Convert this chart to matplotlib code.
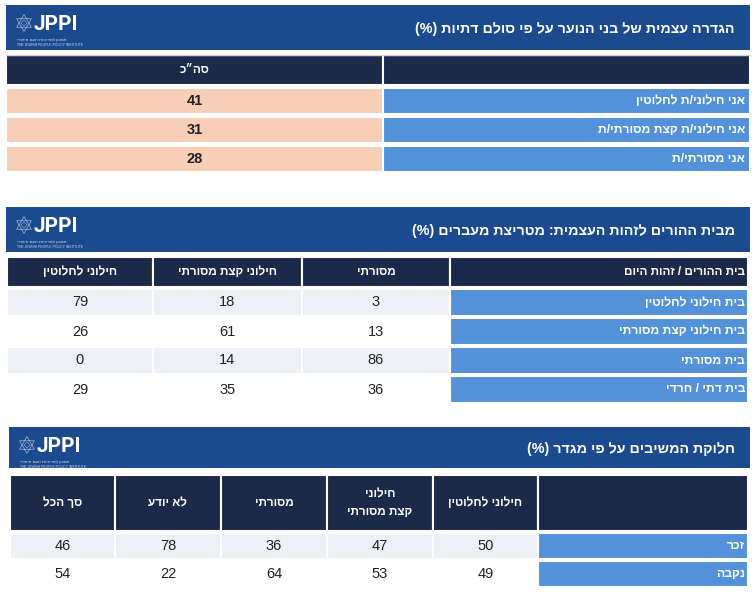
import numpy as np
import matplotlib.pyplot as plt
from matplotlib.patches import Rectangle, Polygon

plt.rcParams['font.family'] = ['Liberation Sans', 'DejaVu Sans']

# ---- donnees (ordre logique, de droite a gauche) ----
t1_title = "הגדרה עצמית של בני הנוער על פי סולם דתיות (%)"
t1_corner = ""
t1_cols = ["סה״כ"]
t1_rows = ["אני חילוני/ת לחלוטין", "אני חילוני/ת קצת מסורתי/ת", "אני מסורתי/ת"]
t1_vals = [[41], [31], [28]]

t2_title = "מבית ההורים לזהות העצמית: מטריצת מעברים (%)"
t2_corner = "בית ההורים / זהות היום"
t2_cols = ["מסורתי", "חילוני קצת מסורתי", "חילוני לחלוטין"]
t2_rows = ["בית חילוני לחלוטין", "בית חילוני קצת מסורתי", "בית מסורתי", "בית דתי / חרדי"]
t2_vals = [[3, 18, 79], [13, 61, 26], [86, 14, 0], [36, 35, 29]]

t3_title = "חלוקת המשיבים על פי מגדר (%)"
t3_corner = ""
t3_cols = ["חילוני לחלוטין", "חילוני\nקצת מסורתי", "מסורתי", "לא יודע", "סך הכל"]
t3_rows = ["זכר", "נקבה"]
t3_vals = [[50, 47, 36, 78, 46], [49, 53, 64, 22, 54]]

BANNER = '#1B4A8E'
HEAD = '#1C2A4A'
LABEL = '#5391D8'
PEACH = '#F7CEB6'
GREY = '#EDF0F5'
TXT = '#222222'


def rtl(s):
    # matplotlib ne gere pas le bidi : on inverse chaque ligne a la main
    swap = {'(': ')', ')': '('}
    lignes = []
    for l in s.split('\n'):
        lignes.append(''.join(swap.get(c, c) for c in reversed(l)))
    return '\n'.join(lignes)


def logo(ax, x, y):
    # etoile + JPPI
    cx, cy, r = x + 9, y + 12, 8.5
    for a0 in (90, -90):
        ang = np.radians([a0, a0 + 120, a0 + 240])
        ax.add_patch(Polygon(np.c_[cx + r * np.cos(ang), cy - r * np.sin(ang)],
                             closed=True, fill=False, ec='white', lw=0.5, alpha=0.6))
    ax.add_patch(Polygon([[cx - 3, cy], [cx, cy - 3], [cx + 3, cy], [cx, cy + 3]],
                         closed=True, fill=False, ec='white', lw=0.4, alpha=0.6))
    ax.text(x + 19, y + 13, "JPPI", color='white', fontsize=15, fontweight='bold',
            va='center', ha='left', family=['Roboto', 'DejaVu Sans'])
    ax.text(x + 2, y + 29, rtl("המכון למדיניות העם היהודי"), color='white', fontsize=3.2,
            va='center', ha='left', alpha=0.8)
    ax.text(x + 2, y + 34, "THE JEWISH PEOPLE POLICY INSTITUTE", color='white', fontsize=2.4,
            va='center', ha='left', alpha=0.8)


def tableau(ax, x0, x1, yb0, yb1, title, corner, cols, rows, vals,
            col_edges, hy0, hy1, row_tops, row_h, peach=False, bold_vals=False):
    ax.add_patch(Rectangle((x0, yb0), x1 - x0, yb1 - yb0, fc=BANNER, ec='none'))
    logo(ax, x0 + 9, yb0 + 6)
    ax.text(x1 - 15, (yb0 + yb1) / 2 + 1, rtl(title), color='white', fontsize=10.3,
            fontweight='bold', ha='right', va='center')

    # col_edges de gauche a droite ; la derniere colonne = libelles
    n = len(cols)
    for j in range(n + 1):
        xa, xb = col_edges[j], col_edges[j + 1]
        ax.add_patch(Rectangle((xa, hy0), xb - xa, hy1 - hy0, fc=HEAD, ec='white', lw=1.5))
    ax.text(x1 - 5, (hy0 + hy1) / 2, rtl(corner), color='white', fontsize=8.5,
            fontweight='bold', ha='right', va='center')
    for k, c in enumerate(cols):
        j = n - 1 - k
        xm = (col_edges[j] + col_edges[j + 1]) / 2
        ax.text(xm, (hy0 + hy1) / 2, rtl(c), color='white', fontsize=8.5,
                fontweight='bold', ha='center', va='center', linespacing=1.6)

    for i, (lab, ligne) in enumerate(zip(rows, vals)):
        yt = row_tops[i]
        if peach:
            fond = PEACH
        else:
            fond = GREY if i % 2 == 0 else 'white'
        ax.add_patch(Rectangle((col_edges[n], yt), col_edges[n + 1] - col_edges[n], row_h,
                               fc=LABEL, ec='white', lw=1.5))
        ax.text(x1 - 5, yt + row_h / 2, rtl(lab), color='white', fontsize=8.7,
                fontweight='bold', ha='right', va='center')
        for k, v in enumerate(ligne):
            j = n - 1 - k
            xa, xb = col_edges[j], col_edges[j + 1]
            ax.add_patch(Rectangle((xa, yt), xb - xa, row_h, fc=fond, ec='white', lw=1.5))
            ax.text((xa + xb) / 2, yt + row_h / 2, str(v), color=TXT, fontsize=10.5,
                    fontweight='bold' if bold_vals else 'normal', ha='center', va='center')


fig = plt.figure(figsize=(7.53, 6.08), dpi=100)
ax = fig.add_axes([0, 0, 1, 1])
ax.set_xlim(0, 753)
ax.set_ylim(608, 0)
ax.axis('off')

tableau(ax, 6, 750, 5, 50, t1_title, t1_corner, t1_cols, t1_rows, t1_vals,
        [6, 383, 750], 55, 85, [88, 117, 146], 25.5, peach=True, bold_vals=True)
ax.plot([6, 750], [54.5, 54.5], color='#D0D3D8', lw=1)

tableau(ax, 6, 750, 207, 252, t2_title, t2_corner, t2_cols, t2_rows, t2_vals,
        [7, 153, 302, 450, 748], 257, 287, [289, 318, 347, 376], 27)

tableau(ax, 9, 750, 427, 468, t3_title, t3_corner, t3_cols, t3_rows, t3_vals,
        [10, 115, 221, 327, 433, 538, 748], 475, 531, [533, 561], 26)

fig.savefig('out.png', dpi=100)
